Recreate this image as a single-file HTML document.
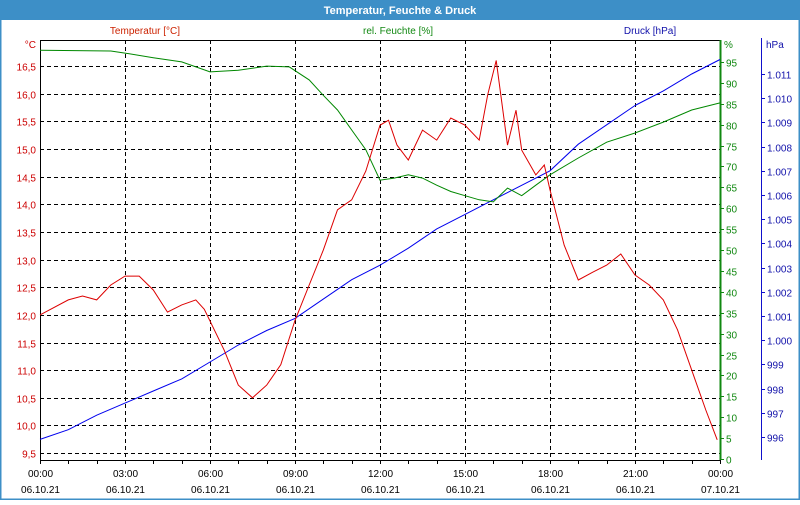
<!DOCTYPE html>
<html><head><meta charset="utf-8"><style>
body{margin:0;background:#fff;}
svg text{font-family:"Liberation Sans",sans-serif;font-size:10px;}
</style></head><body>
<svg id="chart" width="800" height="500" xmlns="http://www.w3.org/2000/svg">
<rect x="0.5" y="0.5" width="799" height="499" fill="#fff" stroke="#3d8fc7" stroke-width="2"/>
<rect x="0" y="0" width="800" height="20" fill="#3d8fc7"/>
<text x="400" y="14" text-anchor="middle" fill="#fff" font-weight="bold" style="font-size:11px">Temperatur, Feuchte &amp; Druck</text>
<text x="145" y="34" text-anchor="middle" fill="#cc2200">Temperatur [°C]</text>
<text x="398" y="34" text-anchor="middle" fill="#118811">rel. Feuchte [%]</text>
<text x="650" y="34" text-anchor="middle" fill="#1111aa">Druck [hPa]</text>
<text x="36" y="48" text-anchor="end" fill="#cc0000">°C</text>
<text x="724" y="48" fill="#118811">%</text>
<text x="766" y="48" fill="#1111aa">hPa</text>
<g id="grid"></g><g id="axes"></g><g id="series"></g>
</svg>
<script>
const hours=[0,1,1.5,2,2.5,3,3.5,4,4.5,5,5.5,5.8,6.5,7,7.5,8,8.5,9,9.5,10,10.5,11,11.5,12,12.3,12.6,13,13.5,14,14.5,15,15.5,15.8,16.1,16.5,16.8,17,17.5,17.8,18,18.5,19,19.5,20,20.5,21,21.5,22,22.5,23,23.5,23.9];
const temperature=[12.0,12.27,12.34,12.27,12.54,12.7,12.7,12.45,12.05,12.18,12.27,12.1,11.36,10.73,10.5,10.73,11.1,11.9,12.54,13.17,13.9,14.08,14.6,15.43,15.52,15.07,14.8,15.34,15.16,15.56,15.43,15.16,15.98,16.6,15.07,15.7,14.98,14.53,14.71,14.26,13.26,12.63,12.77,12.9,13.1,12.72,12.54,12.27,11.73,11.0,10.28,9.74];
const humHours=[0,2.5,3,4,5,6,7,8,8.8,9.5,10,10.5,11,11.5,12,12.5,13,13.5,14,14.5,15,15.5,16,16.5,17,17.5,18,19,20,21,22,23,24];
const humidity=[97.8,97.6,97.1,96,95,92.6,93,94,93.8,90.7,87,83.5,78.7,74,66.7,67.2,68,67.2,65.5,64,63,62,61.5,64.8,63,65.5,68,72,75.8,78,80.6,83.5,85.2];
const presHours=[0,1,2,3,4,5,6,7,8,9,10,11,12,13,14,15,16,17,18,19,20,21,22,23,24];
const pressure=[995.9,996.3,996.9,997.4,997.9,998.4,999.1,999.8,1000.4,1000.9,1001.7,1002.5,1003.1,1003.8,1004.6,1005.2,1005.8,1006.4,1007.0,1008.1,1008.9,1009.7,1010.3,1011.0,1011.6];
const tempTicks=[9.5,10,10.5,11,11.5,12,12.5,13,13.5,14,14.5,15,15.5,16,16.5];
const humTicks=[0,5,10,15,20,25,30,35,40,45,50,55,60,65,70,75,80,85,90,95];
const presTicks=[996,997,998,999,1000,1001,1002,1003,1004,1005,1006,1007,1008,1009,1010,1011];
const timeTicks=[0,3,6,9,12,15,18,21,24];
const timeLabels=["00:00","03:00","06:00","09:00","12:00","15:00","18:00","21:00","00:00"];
const dateLabels=["06.10.21","06.10.21","06.10.21","06.10.21","06.10.21","06.10.21","06.10.21","06.10.21","07.10.21"];

const L=40,R=720,T=40,B=460;
const xS=h=>L+h*(R-L)/24;
const yT=v=>66+(16.5-v)*55.3;
const yH=v=>459-v*4.18;
const yP=v=>437-(v-996)*24.2;
const NS="http://www.w3.org/2000/svg";
function mk(tag,parent,attrs){const e=document.createElementNS(NS,tag);for(const k in attrs)e.setAttribute(k,attrs[k]);parent.appendChild(e);return e;}
const grid=document.getElementById('grid'),axes=document.getElementById('axes'),ser=document.getElementById('series');
tempTicks.forEach(v=>{
  const y=Math.round(yT(v))+0.5;
  const g=mk('line',grid,{x1:L,x2:R,y1:y,y2:y,stroke:'#000','stroke-dasharray':'4,3'});
  
  
  const t=mk('text',axes,{x:36,y:y+4,'text-anchor':'end',fill:'#cc0000'});
  t.textContent=v.toFixed(1).replace('.',',');
  
  
});
timeTicks.forEach((h,i)=>{
  const x=Math.round(xS(h))+0.5;
  if(i>0&&i<8){const g=mk('line',grid,{x1:x,x2:x,y1:T,y2:B,stroke:'#000','stroke-dasharray':'4,3'});
  
  }
  const t=mk('text',axes,{x:x,y:477,'text-anchor':'middle',fill:'#000'});t.textContent=timeLabels[i];
  
  
  const d=mk('text',axes,{x:x,y:493,'text-anchor':'middle',fill:'#000'});d.textContent=dateLabels[i];
  
  
});
for(let h=0;h<=24;h++){const x=Math.round(xS(h))+0.5;const m=mk('line',axes,{x1:x,x2:x,y1:B,y2:B+4,stroke:'#000'});
  
  }
const frame=mk('rect',axes,{x:L+0.5,y:T+0.5,width:R-L,height:B-T,fill:'none',stroke:'#000'});


const ga=mk('line',axes,{x1:R+0.5,x2:R+0.5,y1:T,y2:B,stroke:'#118811','stroke-width':2});


humTicks.forEach(v=>{const y=Math.round(yH(v))+0.5;
  const k=mk('line',axes,{x1:R,x2:R+4,y1:y,y2:y,stroke:'#118811'});
  
  
  const t=mk('text',axes,{x:726,y:y+4,fill:'#118811'});t.textContent=v;
  
  });
const pa=mk('line',axes,{x1:761.5,x2:761.5,y1:38,y2:B,stroke:'#1111cc'});


presTicks.forEach(v=>{const y=Math.round(yP(v))+0.5;
  const k=mk('line',axes,{x1:761,x2:765,y1:y,y2:y,stroke:'#1111cc'});
  
  
  const t=mk('text',axes,{x:767,y:y+4,fill:'#1111aa'});t.textContent=v>=1000?'1.0'+String(v).slice(2):String(v);
  
  });
function line(xs,vs,yf,col,name){const p=mk('polyline',ser,{points:xs.map((h,i)=>xS(h).toFixed(1)+','+yf(vs[i]).toFixed(1)).join(' '),fill:'none',stroke:col,'stroke-width':1});
  
  }
line(presHours,pressure,yP,'#0000ee','pressure-line');
line(humHours,humidity,yH,'#008800','humidity-line');
line(hours,temperature,yT,'#dd0000','temperature-line');
</script>
</body></html>
